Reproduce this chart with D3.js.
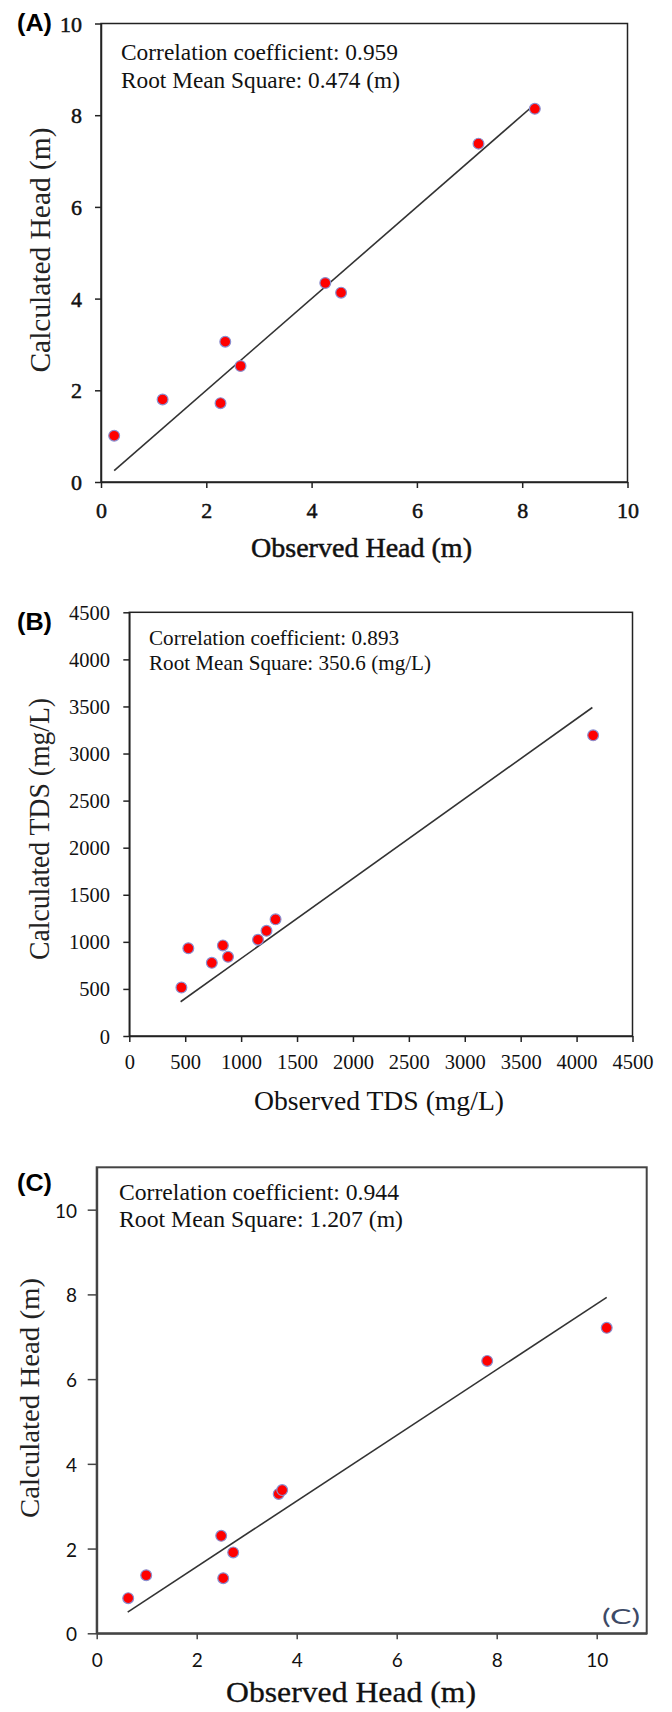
<!DOCTYPE html>
<html><head><meta charset="utf-8">
<script src="https://cdn.jsdelivr.net/npm/d3@7"></script>
<style>body{margin:0;background:#fff}svg{display:block}</style>
</head><body>
<svg id="chart" width="672" height="1712"></svg>
<script>
// ---------- DATA ----------
// Panel A: observed vs calculated head (m)
const obsHeadA  = [0.25, 1.17, 2.27, 2.36, 2.65, 4.26, 4.56, 7.17, 8.24];
const calcHeadA = [1.01, 1.80, 1.72, 3.06, 2.53, 4.34, 4.13, 7.38, 8.14];
const fitXA = [0.25, 8.25];
const fitYA = [0.25, 8.25];
const ticksA = [0, 2, 4, 6, 8, 10];
const statsA = ["Correlation coefficient: 0.959", "Root Mean Square: 0.474 (m)"];

// Panel B: observed vs calculated TDS (mg/L)
const obsTdsB  = [466, 528, 738, 837, 883, 1151, 1227, 1308, 4148];
const calcTdsB = [515, 932, 777, 962, 841, 1023, 1117, 1239, 3193];
const fitXB = [459, 4141];
const fitYB = [364, 3489];
const ticksB = [0, 500, 1000, 1500, 2000, 2500, 3000, 3500, 4000, 4500];
const statsB = ["Correlation coefficient: 0.893", "Root Mean Square: 350.6 (mg/L)"];

// Panel C: observed vs calculated head (m)
const obsHeadC  = [0.63, 0.99, 2.49, 2.53, 2.73, 3.64, 3.71, 7.81, 10.20];
const calcHeadC = [0.83, 1.37, 2.30, 1.30, 1.91, 3.29, 3.38, 6.43, 7.21];
const fitXC = [0.62, 10.2];
const fitYC = [0.50, 7.93];
const ticksC = [0, 2, 4, 6, 8, 10];
const statsC = ["Correlation coefficient: 0.944", "Root Mean Square: 1.207 (m)"];

const panelLetters = ["(A)", "(B)", "(C)"];
const xTitles = ["Observed Head (m)", "Observed TDS (mg/L)", "Observed Head (m)"];
const yTitles = ["Calculated Head (m)", "Calculated TDS (mg/L)", "Calculated Head (m)"];

// ---------- LAYOUT ----------
const serif = "'Liberation Serif','Times New Roman',serif";
const sans = "'Liberation Sans',Arial,sans-serif";
const cSans = "Lato,'Open Sans',sans-serif";

const panels = [
  { obs: obsHeadA, calc: calcHeadA, fx: fitXA, fy: fitYA, ticks: ticksA, stats: statsA,
    domain: [0, 10], left: 101, right: 627.5, top: 23.5, bottom: 482,
    tickFont: serif, tickSize: 22, tickBold: 0.5, ytickX: 82, xtickY: 510, yTickLen: 6,
    letterY: 31,
    statX: 121, statY: [60, 88], statSize: 23, statLen: [277, 279],
    xt: { x: 361.5, y: 547, len: 221, size: 28, bold: 0.5 },
    yt: { x: 40, y: 250, len: 245, size: 29 },
    frame: "#222", frameW: 1.5 },
  { obs: obsTdsB, calc: calcTdsB, fx: fitXB, fy: fitYB, ticks: ticksB, stats: statsB,
    domain: [0, 4500], left: 129.3, right: 632.5, top: 612.3, bottom: 1036,
    tickFont: serif, tickSize: 20.5, tickBold: 0, ytickX: 110, xtickY: 1062, yTickLen: 6,
    letterY: 630,
    statX: 149, statY: [645, 670], statSize: 21, statLen: [250, 282],
    xt: { x: 379, y: 1100, len: 250, size: 28, bold: 0 },
    yt: { x: 39, y: 829, len: 262, size: 29 },
    frame: "#222", frameW: 1.5 },
  { obs: obsHeadC, calc: calcHeadC, fx: fitXC, fy: fitYC, ticks: ticksC, stats: statsC,
    domain: [0, 11], left: 96.7, right: 646.7, top: 1167.3, bottom: 1633.3,
    tickFont: cSans, tickSize: 19, tickBold: 0, ytickX: 77, xtickY: 1660, yTickLen: 9,
    letterY: 1191,
    statX: 119, statY: [1200, 1227], statSize: 23, statLen: [280, 284],
    xt: { x: 351, y: 1692, len: 250, size: 29, bold: 0.3 },
    yt: { x: 29, y: 1398, len: 240, size: 28 },
    frame: "#444", frameW: 2 }
];

const svg = d3.select("#chart");
const fmt = d3.format("d");

panels.forEach((p, i) => {
  const x = d3.scaleLinear().domain(p.domain).range([p.left, p.right]);
  const y = d3.scaleLinear().domain(p.domain).range([p.bottom, p.top]);
  const g = svg.append("g");

  // frame
  g.append("rect")
    .attr("x", p.left).attr("y", p.top)
    .attr("width", p.right - p.left).attr("height", p.bottom - p.top)
    .attr("fill", "none").attr("stroke", p.frame).attr("stroke-width", p.frameW);

  // axes
  const xa = g.append("g").attr("transform", `translate(0,${p.bottom})`)
    .call(d3.axisBottom(x).tickValues(p.ticks).tickFormat(fmt).tickSize(6).tickSizeOuter(0));
  const ya = g.append("g").attr("transform", `translate(${p.left},0)`)
    .call(d3.axisLeft(y).tickValues(p.ticks).tickFormat(fmt).tickSize(p.yTickLen).tickSizeOuter(0));
  [xa, ya].forEach(a => {
    a.select(".domain").attr("stroke", p.frame).attr("stroke-width", p.frameW);
    a.selectAll(".tick line").attr("stroke", p.frame).attr("stroke-width", 1.5);
    a.selectAll(".tick text").attr("fill", "#111")
      .attr("stroke", p.tickBold ? "#111" : "none").attr("stroke-width", p.tickBold)
      .style("font-family", p.tickFont).style("font-size", p.tickSize + "px");
  });
  xa.selectAll(".tick text").attr("dy", null)
    .attr("y", p.xtickY - p.bottom).attr("dominant-baseline", "central");
  ya.selectAll(".tick text").attr("x", p.ytickX - p.left).attr("dy", null)
    .attr("dominant-baseline", "central");

  // fit line
  g.append("line")
    .attr("x1", x(p.fx[0])).attr("y1", y(p.fy[0]))
    .attr("x2", x(p.fx[1])).attr("y2", y(p.fy[1]))
    .attr("stroke", "#333").attr("stroke-width", 1.6);

  // points
  g.selectAll("circle.pt").data(p.obs.map((v, k) => [v, p.calc[k]]))
    .enter().append("circle").attr("class", "pt")
    .attr("cx", d => x(d[0])).attr("cy", d => y(d[1])).attr("r", 5.4)
    .attr("fill", "#ff0000").attr("stroke", "#8a8fd0").attr("stroke-width", 1.2);

  // stats text
  p.stats.forEach((s, k) => {
    g.append("text").attr("x", p.statX).attr("y", p.statY[k])
      .attr("textLength", p.statLen[k]).attr("lengthAdjust", "spacingAndGlyphs")
      .style("font-family", serif).style("font-size", p.statSize + "px")
      .attr("fill", "#111").text(s);
  });

  // axis titles
  g.append("text").attr("x", p.xt.x).attr("y", p.xt.y)
    .attr("text-anchor", "middle").attr("dominant-baseline", "central")
    .attr("textLength", p.xt.len).attr("lengthAdjust", "spacingAndGlyphs")
    .attr("stroke", p.xt.bold ? "#111" : "none").attr("stroke-width", p.xt.bold)
    .style("font-family", serif).style("font-size", p.xt.size + "px")
    .attr("fill", "#111").text(xTitles[i]);
  g.append("text")
    .attr("transform", `translate(${p.yt.x},${p.yt.y}) rotate(-90)`)
    .attr("text-anchor", "middle").attr("dominant-baseline", "central")
    .attr("textLength", p.yt.len).attr("lengthAdjust", "spacingAndGlyphs")
    .style("font-family", serif).style("font-size", p.yt.size + "px")
    .attr("fill", "#222").text(yTitles[i]);

  // panel letter
  g.append("text").attr("x", 17).attr("y", p.letterY)
    .attr("textLength", 35).attr("lengthAdjust", "spacingAndGlyphs")
    .style("font-family", sans).style("font-weight", "bold").style("font-size", "23px")
    .attr("fill", "#000").text(panelLetters[i]);

  if (i === 2) {
    g.append("text").attr("x", 640).attr("y", 1615)
      .attr("text-anchor", "end").attr("dominant-baseline", "central")
      .attr("textLength", 38).attr("lengthAdjust", "spacingAndGlyphs")
      .style("font-family", cSans).style("font-size", "22px")
      .attr("fill", "#3d4a66").text(panelLetters[2]);
  }
});
</script>
</body></html>
